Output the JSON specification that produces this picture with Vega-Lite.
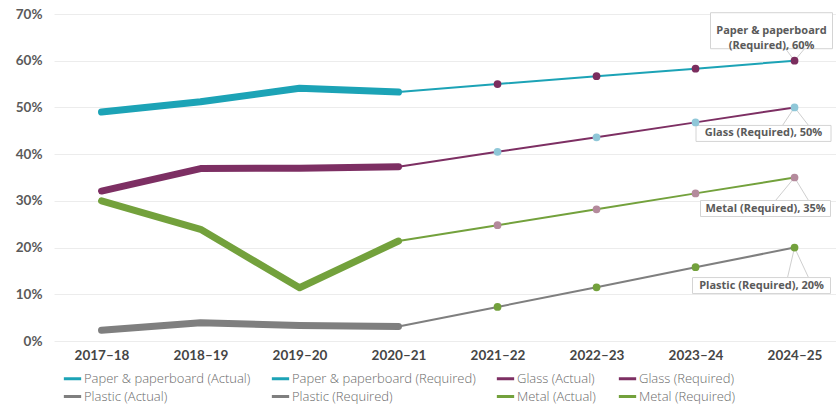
{
  "$schema": "https://vega.github.io/schema/vega-lite/v6.json",
  "autosize": {"type": "none"},
  "padding": {"left": 54, "top": 14, "right": 0, "bottom": 63},
  "width": 782,
  "height": 327,
  "background": "white",
  "config": {
    "view": {"stroke": null},
    "font": "Lato",
    "axis": {"labelFont": "Lato", "titleFont": "Lato"},
    "legend": {"labelFont": "Open Sans"}
  },
  "data": {
    "values": [
      {"year": "2017\u201318", "material": "Paper & paperboard", "type": "Actual", "series": "Paper & paperboard (Actual)", "value": 49},
      {"year": "2018\u201319", "material": "Paper & paperboard", "type": "Actual", "series": "Paper & paperboard (Actual)", "value": 51.2},
      {"year": "2019\u201320", "material": "Paper & paperboard", "type": "Actual", "series": "Paper & paperboard (Actual)", "value": 54.1},
      {"year": "2020\u201321", "material": "Paper & paperboard", "type": "Actual", "series": "Paper & paperboard (Actual)", "value": 53.3},
      {"year": "2020\u201321", "material": "Paper & paperboard", "type": "Required", "series": "Paper & paperboard (Required)", "value": 53.3},
      {"year": "2021\u201322", "material": "Paper & paperboard", "type": "Required", "series": "Paper & paperboard (Required)", "value": 55},
      {"year": "2022\u201323", "material": "Paper & paperboard", "type": "Required", "series": "Paper & paperboard (Required)", "value": 56.7},
      {"year": "2023\u201324", "material": "Paper & paperboard", "type": "Required", "series": "Paper & paperboard (Required)", "value": 58.3},
      {"year": "2024\u201325", "material": "Paper & paperboard", "type": "Required", "series": "Paper & paperboard (Required)", "value": 60},
      {"year": "2017\u201318", "material": "Glass", "type": "Actual", "series": "Glass  (Actual)", "value": 32.1},
      {"year": "2018\u201319", "material": "Glass", "type": "Actual", "series": "Glass  (Actual)", "value": 36.9},
      {"year": "2019\u201320", "material": "Glass", "type": "Actual", "series": "Glass  (Actual)", "value": 37},
      {"year": "2020\u201321", "material": "Glass", "type": "Actual", "series": "Glass  (Actual)", "value": 37.3},
      {"year": "2020\u201321", "material": "Glass", "type": "Required", "series": "Glass  (Required)", "value": 37.3},
      {"year": "2021\u201322", "material": "Glass", "type": "Required", "series": "Glass  (Required)", "value": 40.5},
      {"year": "2022\u201323", "material": "Glass", "type": "Required", "series": "Glass  (Required)", "value": 43.6},
      {"year": "2023\u201324", "material": "Glass", "type": "Required", "series": "Glass  (Required)", "value": 46.8},
      {"year": "2024\u201325", "material": "Glass", "type": "Required", "series": "Glass  (Required)", "value": 50},
      {"year": "2017\u201318", "material": "Plastic", "type": "Actual", "series": "Plastic (Actual)", "value": 2.3},
      {"year": "2018\u201319", "material": "Plastic", "type": "Actual", "series": "Plastic (Actual)", "value": 3.9},
      {"year": "2019\u201320", "material": "Plastic", "type": "Actual", "series": "Plastic (Actual)", "value": 3.3},
      {"year": "2020\u201321", "material": "Plastic", "type": "Actual", "series": "Plastic (Actual)", "value": 3.1},
      {"year": "2020\u201321", "material": "Plastic", "type": "Required", "series": "Plastic (Required)", "value": 3.1},
      {"year": "2021\u201322", "material": "Plastic", "type": "Required", "series": "Plastic (Required)", "value": 7.3},
      {"year": "2022\u201323", "material": "Plastic", "type": "Required", "series": "Plastic (Required)", "value": 11.5},
      {"year": "2023\u201324", "material": "Plastic", "type": "Required", "series": "Plastic (Required)", "value": 15.8},
      {"year": "2024\u201325", "material": "Plastic", "type": "Required", "series": "Plastic (Required)", "value": 20},
      {"year": "2017\u201318", "material": "Metal", "type": "Actual", "series": "Metal (Actual)", "value": 30},
      {"year": "2018\u201319", "material": "Metal", "type": "Actual", "series": "Metal (Actual)", "value": 23.9},
      {"year": "2019\u201320", "material": "Metal", "type": "Actual", "series": "Metal (Actual)", "value": 11.4},
      {"year": "2020\u201321", "material": "Metal", "type": "Actual", "series": "Metal (Actual)", "value": 21.4},
      {"year": "2020\u201321", "material": "Metal", "type": "Required", "series": "Metal (Required)", "value": 21.4},
      {"year": "2021\u201322", "material": "Metal", "type": "Required", "series": "Metal (Required)", "value": 24.8},
      {"year": "2022\u201323", "material": "Metal", "type": "Required", "series": "Metal (Required)", "value": 28.2},
      {"year": "2023\u201324", "material": "Metal", "type": "Required", "series": "Metal (Required)", "value": 31.6},
      {"year": "2024\u201325", "material": "Metal", "type": "Required", "series": "Metal (Required)", "value": 35}
    ]
  },
  "encoding": {
    "x": {
      "field": "year", "type": "ordinal",
      "scale": {"type": "point", "padding": 0.4495, "align": 0.534},
      "axis": {"title": null, "labelAngle": 0, "domain": false, "ticks": false, "grid": false,
               "labelFontSize": 13.5, "labelFontWeight": "bold", "labelColor": "#454545", "labelPadding": 7}
    },
    "y": {
      "field": "value", "type": "quantitative",
      "scale": {"domain": [0, 70], "nice": false},
      "axis": {"title": null, "values": [0, 10, 20, 30, 40, 50, 60, 70], "labelExpr": "datum.value + '%'",
               "domain": false, "ticks": false, "gridColor": "#ececec", "gridWidth": 1,
               "labelFontSize": 13.5, "labelFontWeight": "bold", "labelColor": "#5a5a5a", "labelPadding": 12}
    }
  },
  "layer": [
    {
      "transform": [{"filter": "datum.type == 'Actual'"}],
      "mark": {"type": "line", "strokeWidth": 7, "strokeCap": "round", "strokeJoin": "round"},
      "encoding": {
        "color": {
          "field": "series", "type": "nominal",
          "scale": {
            "domain": ["Paper & paperboard (Actual)", "Paper & paperboard (Required)", "Glass  (Actual)", "Glass  (Required)",
                       "Plastic (Actual)", "Plastic (Required)", "Metal (Actual)", "Metal (Required)"],
            "range": ["#1ca3b6", "#1ca3b6", "#7d2f63", "#7d2f63", "#7f7f7f", "#7f7f7f", "#73a13c", "#73a13c"]
          },
          "legend": {
            "title": null, "orient": "none", "legendX": 8, "legendY": 354, "columns": 4, "direction": "horizontal",
            "labelFontSize": 13, "labelColor": "#6a6a6a", "labelFontWeight": 300, "labelOffset": 1, "labelLimit": 0,
            "symbolSize": 300, "columnPadding": 14, "rowPadding": -1,
            "symbolType": "stroke", "symbolStrokeWidth": 3
          }
        }
      }
    },
    {
      "transform": [{"filter": "datum.type == 'Required'"}],
      "mark": {"type": "line", "strokeWidth": 2},
      "encoding": {"color": {"field": "series", "type": "nominal"}}
    },
    {
      "transform": [{"filter": "datum.series == 'Paper & paperboard (Required)' && datum.year == '2024\u201325'"},
                    {"calculate": "replace(datum.series, ' (', '\\n(') + ', ' + datum.value + '%'", "as": "label"}],
      "layer": [
        {"mark": {"type": "rule", "stroke": "#cfcfcf", "strokeWidth": 1, "x2Offset": -9, "y2Offset": -12},
         "encoding": {"x2": {"field": "year"}, "y2": {"field": "value"}}},
        {"mark": {"type": "rule", "stroke": "#cfcfcf", "strokeWidth": 1, "x2Offset": 10, "y2Offset": -12},
         "encoding": {"x2": {"field": "year"}, "y2": {"field": "value"}}},
        {"mark": {"type": "rect", "width": 122, "height": 36, "xOffset": -23, "yOffset": -30, "fill": "white", "stroke": "#d4d4d4", "strokeWidth": 1}},
        {"mark": {"type": "text", "lineBreak": "\n", "dx": -23, "dy": -30, "align": "center", "baseline": "middle",
                  "font": "Open Sans", "fontSize": 11, "fontWeight": "bold", "color": "#5a5a5a", "lineHeight": 15},
         "encoding": {"text": {"field": "label"}}}
      ]
    },
    {
      "transform": [{"filter": "datum.series == 'Glass  (Required)' && datum.year == '2024\u201325'"},
                    {"calculate": "datum.series + ', ' + datum.value + '%'", "as": "label"}],
      "layer": [
        {"mark": {"type": "rule", "stroke": "#cfcfcf", "strokeWidth": 1, "x2Offset": -12, "y2Offset": 18},
         "encoding": {"x2": {"field": "year"}, "y2": {"field": "value"}}},
        {"mark": {"type": "rule", "stroke": "#cfcfcf", "strokeWidth": 1, "x2Offset": 14, "y2Offset": 18},
         "encoding": {"x2": {"field": "year"}, "y2": {"field": "value"}}},
        {"mark": {"type": "rect", "width": 135, "height": 16, "xOffset": -31, "yOffset": 26, "fill": "white", "stroke": "#d4d4d4", "strokeWidth": 1}},
        {"mark": {"type": "text", "dx": -31, "dy": 26, "align": "center", "baseline": "middle",
                  "font": "Open Sans", "fontSize": 11, "fontWeight": "bold", "color": "#5a5a5a"},
         "encoding": {"text": {"field": "label"}}}
      ]
    },
    {
      "transform": [{"filter": "datum.series == 'Metal (Required)' && datum.year == '2024\u201325'"},
                    {"calculate": "datum.series + ', ' + datum.value + '%'", "as": "label"}],
      "layer": [
        {"mark": {"type": "rule", "stroke": "#cfcfcf", "strokeWidth": 1, "x2Offset": -19, "y2Offset": 23},
         "encoding": {"x2": {"field": "year"}, "y2": {"field": "value"}}},
        {"mark": {"type": "rule", "stroke": "#cfcfcf", "strokeWidth": 1, "x2Offset": 14, "y2Offset": 23},
         "encoding": {"x2": {"field": "year"}, "y2": {"field": "value"}}},
        {"mark": {"type": "rect", "width": 130, "height": 16, "xOffset": -29, "yOffset": 31, "fill": "white", "stroke": "#d4d4d4", "strokeWidth": 1}},
        {"mark": {"type": "text", "dx": -29, "dy": 31, "align": "center", "baseline": "middle",
                  "font": "Open Sans", "fontSize": 11, "fontWeight": "bold", "color": "#5a5a5a"},
         "encoding": {"text": {"field": "label"}}}
      ]
    },
    {
      "transform": [{"filter": "datum.series == 'Plastic (Required)' && datum.year == '2024\u201325'"},
                    {"calculate": "datum.series + ', ' + datum.value + '%'", "as": "label"}],
      "layer": [
        {"mark": {"type": "rule", "stroke": "#cfcfcf", "strokeWidth": 1, "x2Offset": -7, "y2Offset": 30},
         "encoding": {"x2": {"field": "year"}, "y2": {"field": "value"}}},
        {"mark": {"type": "rule", "stroke": "#cfcfcf", "strokeWidth": 1, "x2Offset": 14, "y2Offset": 30},
         "encoding": {"x2": {"field": "year"}, "y2": {"field": "value"}}},
        {"mark": {"type": "rect", "width": 138, "height": 16, "xOffset": -33, "yOffset": 38, "fill": "white", "stroke": "#d4d4d4", "strokeWidth": 1}},
        {"mark": {"type": "text", "dx": -33, "dy": 38, "align": "center", "baseline": "middle",
                  "font": "Open Sans", "fontSize": 11, "fontWeight": "bold", "color": "#5a5a5a"},
         "encoding": {"text": {"field": "label"}}}
      ]
    },
    {
      "transform": [{"filter": "datum.type == 'Required' && datum.year != '2020\u201321'"}],
      "mark": {"type": "point", "filled": true, "size": 60, "opacity": 1},
      "encoding": {
        "fill": {
          "field": "series", "type": "nominal",
          "scale": {"domain": ["Paper & paperboard (Required)", "Glass  (Required)", "Plastic (Required)", "Metal (Required)"],
                    "range": ["#7b2d5e", "#8fc7d8", "#73a13c", "#b48a9c"]},
          "legend": null
        }
      }
    }
  ]
}
